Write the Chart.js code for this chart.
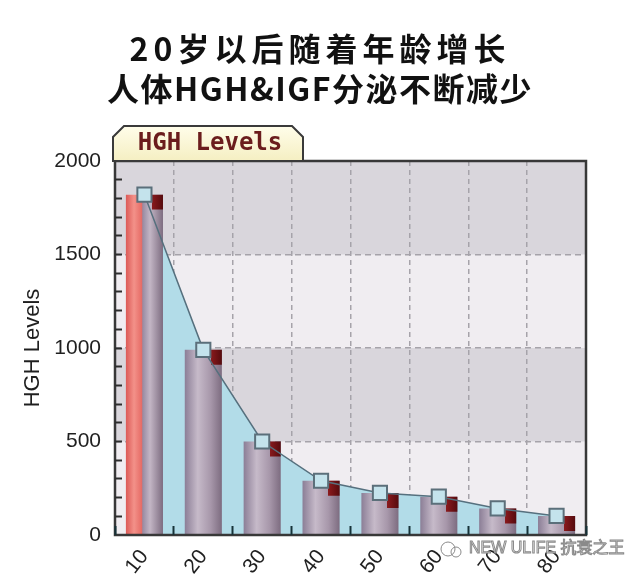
<!DOCTYPE html>
<html>
<head>
<meta charset="utf-8">
<title>HGH Levels</title>
<script src="https://cdn.jsdelivr.net/npm/chart.js@4.4.1/dist/chart.umd.min.js"></script>
<style>
  html, body { margin: 0; padding: 0; background: #fff; }
  #hghChart { display: block; }
</style>
</head>
<body>
<canvas id="hghChart" width="640" height="576"></canvas>
<script>
/* ===============================
   Data
================================*/
const ages = ["10", "20", "30", "40", "50", "60", "70", "80"];
const hghLevels = [1820, 990, 500, 290, 225, 205, 142, 102];
const yTicks = [0, 500, 1000, 1500, 2000];
const titleLines = ["20岁以后随着年龄增长", "人体HGH&IGF分泌不断减少"];
const panelLabel = "HGH Levels";
const axisLabel = "HGH Levels";
const watermark = "NEW ULIFE 抗衰之王";

const BAR_PCT = 0.63;
const CAP = 80; // dark top cap of each column, in HGH units

/* ===============================
   Helper: horizontal gradient per bar
================================*/
function barGradient(ctx, stops) {
  const chart = ctx.chart;
  const xs = chart.scales.x;
  if (!xs || !chart.chartArea || ctx.dataIndex === undefined) return stops[1][1];
  const cx = xs.getPixelForValue(ctx.dataIndex);
  const half = (xs.width / ages.length) * BAR_PCT / 2;
  const g = chart.ctx.createLinearGradient(cx - half, 0, cx + half, 0);
  stops.forEach(([o, c]) => g.addColorStop(o, c));
  return g;
}

const grayStops = [[0, "#8b7e96"], [0.35, "#c6bac9"], [0.7, "#a797aa"], [1, "#7d6c80"]];
const firstStops = [[0, "#dc5a57"], [0.22, "#f39189"], [0.44, "#e56a64"], [0.45, "#988aa1"], [0.65, "#c3b6c5"], [1, "#7d6c80"]];
const capStops = [[0, "rgba(0,0,0,0)"], [0.7, "rgba(0,0,0,0)"], [0.7, "#8a1a1d"], [1, "#560b0e"]];

/* ===============================
   Plugin: bands, frame, tab, letter spacing
================================*/
const decoPlugin = {
  id: "deco",
  beforeDraw(chart) {
    // letter spacing for the two title lines
    chart.boxes.forEach((box) => {
      if (box._spaced || !box.options) return;
      let sp = null;
      if (box.options.text === titleLines[0]) sp = 5;
      if (box.options.text === titleLines[1]) sp = 1.5;
      if (sp === null) return;
      const orig = box.draw.bind(box);
      box.draw = function (area) {
        const c = chart.ctx;
        c.save();
        c.letterSpacing = sp + "px";
        orig(area);
        c.restore();
      };
      box._spaced = true;
    });

    const { ctx, chartArea: a, scales: { y } } = chart;
    ctx.save();
    ctx.fillStyle = "#d9d6dc";
    ctx.fillRect(a.left, a.top, a.width, a.height);
    ctx.fillStyle = "#f0edf1";
    for (let i = 0; i < yTicks.length - 1; i += 2) {
      const top = y.getPixelForValue(yTicks[i + 1]);
      const bot = y.getPixelForValue(yTicks[i]);
      ctx.fillRect(a.left, top, a.width, bot - top);
    }
    ctx.restore();
  },
  afterDatasetsDraw(chart) {
    const { ctx, chartArea: a } = chart;
    ctx.save();
    ctx.strokeStyle = "#383838";
    ctx.lineWidth = 2.5;
    ctx.strokeRect(a.left, a.top, a.width, a.height);
    ctx.restore();
  },
  afterDraw(chart) {
    const { ctx, chartArea: a } = chart;
    // tab above the plot
    const l = a.left - 2, r = a.left + 188, t = a.top - 35, b = a.top, cut = 11;
    ctx.save();
    const g = ctx.createLinearGradient(0, t, 0, b);
    g.addColorStop(0, "#fffdea");
    g.addColorStop(1, "#f5efc2");
    ctx.beginPath();
    ctx.moveTo(l, b);
    ctx.lineTo(l, t + cut);
    ctx.lineTo(l + cut, t);
    ctx.lineTo(r - cut, t);
    ctx.lineTo(r, t + cut);
    ctx.lineTo(r, b);
    ctx.closePath();
    ctx.fillStyle = g;
    ctx.fill();
    ctx.strokeStyle = "#3a3a3a";
    ctx.lineWidth = 2;
    ctx.stroke();
    ctx.font = 'bold 24px "DejaVu Sans Mono", monospace';
    ctx.fillStyle = "#6b1d1d";
    ctx.textAlign = "center";
    ctx.textBaseline = "middle";
    ctx.fillText(panelLabel, (l + r) / 2 + 2, t + 18);

    // watermark
    ctx.strokeStyle = "#8a8a8a";
    ctx.lineWidth = 1;
    ctx.beginPath();
    ctx.arc(448, 549, 7, 0, Math.PI * 2);
    ctx.stroke();
    ctx.beginPath();
    ctx.arc(456, 552, 5, 0, Math.PI * 2);
    ctx.stroke();
    ctx.font = '16px "Liberation Sans", "Noto Sans CJK SC", sans-serif';
    ctx.textAlign = "left";
    ctx.fillStyle = "#ffffff";
    ctx.fillText(watermark, 469, 549);
    ctx.strokeText(watermark, 469, 549);
    ctx.restore();
  }
};

/* ===============================
   Chart
================================*/
const tickFont = { family: '"Liberation Sans", Arial, sans-serif', size: 21 };

new Chart(document.getElementById("hghChart"), {
  data: {
    labels: ages,
    datasets: [
      {
        type: "line",
        label: "HGH",
        data: hghLevels,
        order: 0,
        fill: "origin",
        backgroundColor: "#b2dce8",
        borderColor: "#56707e",
        borderWidth: 1.5,
        tension: 0,
        pointStyle: "rect",
        pointRadius: 10,
        pointBackgroundColor: "#c4e3ec",
        pointBorderColor: "#5b6f7a",
        pointBorderWidth: 2
      },
      {
        type: "bar",
        label: "cap",
        data: hghLevels.map((v) => [Math.max(0, v - CAP), v]),
        order: 1,
        grouped: false,
        barPercentage: BAR_PCT,
        categoryPercentage: 1,
        backgroundColor: (ctx) => barGradient(ctx, capStops)
      },
      {
        type: "bar",
        label: "HGH bars",
        data: hghLevels,
        order: 2,
        grouped: false,
        barPercentage: BAR_PCT,
        categoryPercentage: 1,
        backgroundColor: (ctx) => barGradient(ctx, ctx.dataIndex === 0 ? firstStops : grayStops)
      }
    ]
  },
  options: {
    responsive: false,
    animation: false,
    layout: { padding: 0 },
    plugins: {
      legend: { display: false },
      tooltip: { enabled: false },
      filler: { drawTime: "beforeDatasetsDraw" },
      title: {
        display: true,
        text: titleLines[0],
        color: "#111",
        font: { family: '"Noto Sans CJK SC", sans-serif', size: 32, weight: "bold", lineHeight: 1.25 },
        padding: { top: 29, bottom: 0 }
      },
      subtitle: {
        display: true,
        text: titleLines[1],
        color: "#111",
        font: { family: '"Noto Sans CJK SC", sans-serif', size: 32, weight: "bold", lineHeight: 1.25 },
        padding: { top: 0, bottom: 52 }
      }
    },
    scales: {
      x: {
        type: "category",
        offset: true,
        weight: 2,
        grid: { offset: true, color: "#a6a3aa", lineWidth: 1.5, drawTicks: false },
        border: { display: false, dash: [5, 4] },
        ticks: {
          color: "#1f1f1f",
          font: tickFont,
          padding: 10,
          minRotation: 52,
          maxRotation: 52,
          autoSkip: false
        },
        afterFit(scale) { scale.height = 41; }
      },
      x2: {
        type: "category",
        labels: ages,
        offset: true,
        weight: 0,
        // inward tick marks along the bottom edge
        grid: {
          offset: true,
          drawOnChartArea: false,
          drawTicks: true,
          tickLength: -9,
          tickColor: "#163238",
          tickWidth: 2,
          z: 1
        },
        border: { display: false },
        ticks: { display: false },
        afterFit(scale) { scale.height = 0; }
      },
      y: {
        type: "linear",
        min: 0,
        max: 2000,
        weight: 2,
        afterBuildTicks(scale) { scale.ticks = yTicks.map((v) => ({ value: v })); },
        grid: {
          drawTicks: false,
          color: (ctx) => (ctx.tick && (ctx.tick.value === 0 || ctx.tick.value === 2000) ? "rgba(0,0,0,0)" : "#a6a3aa"),
          lineWidth: 1.5
        },
        border: { display: false, dash: [6, 4] },
        ticks: { color: "#1f1f1f", font: tickFont, padding: 14, callback: (v) => String(v) },
        title: {
          display: true,
          text: axisLabel,
          color: "#1f1f1f",
          font: { family: '"Liberation Sans", Arial, sans-serif', size: 22 },
          padding: { top: 20, bottom: 0 }
        },
        afterFit(scale) { scale.width = 115; }
      },
      y2: {
        type: "linear",
        position: "left",
        min: 0,
        max: 2000,
        weight: 0,
        afterBuildTicks(scale) {
          const t = [];
          for (let v = 100; v < 2000; v += 100) t.push({ value: v });
          scale.ticks = t;
        },
        // inward tick marks along the left edge
        grid: {
          drawOnChartArea: false,
          drawTicks: true,
          tickLength: -7,
          tickColor: "#2e2e2e",
          tickWidth: 2,
          z: 1
        },
        border: { display: false },
        ticks: { display: false },
        afterFit(scale) { scale.width = 0; }
      },
      yR: {
        type: "linear",
        position: "right",
        display: true,
        grid: { display: false },
        border: { display: false },
        ticks: { display: false },
        afterFit(scale) { scale.width = 54; }
      }
    }
  },
  plugins: [decoPlugin]
});
</script>
</body>
</html>
